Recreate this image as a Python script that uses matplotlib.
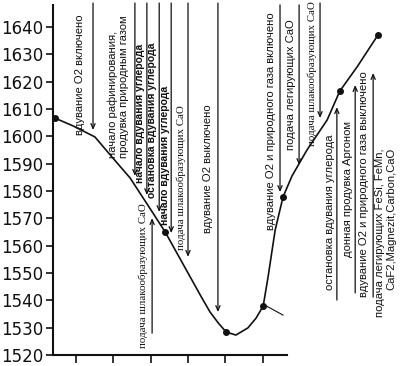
import matplotlib
matplotlib.use('Agg')
import matplotlib.pyplot as plt

# ---- data (time in arbitrary units, temperature in deg C) ----
time = [0.44, 0.93, 1.51, 1.97, 2.45, 3.06, 3.39, 4.37, 4.59, 4.81, 5.02,
        5.28, 5.60, 5.82, 6.01, 6.14, 6.33, 6.54, 6.78, 7.18, 7.72, 8.06,
        8.52, 9.08]
temp = [1606.7, 1603.8, 1599.8, 1592.4, 1584.8, 1572.0, 1565.0, 1540.9,
        1535.7, 1531.7, 1528.4, 1527.3, 1529.9, 1533.5, 1537.9, 1548.5,
        1565.7, 1577.8, 1585.5, 1595.0, 1606.0, 1616.6, 1625.4, 1637.1]
marker_time = [0.44, 3.39, 5.02, 6.01, 6.54, 8.06, 9.08]
marker_temp = [1606.7, 1565.0, 1528.4, 1537.9, 1577.8, 1616.6, 1637.1]

yticks = [1520, 1530, 1540, 1550, 1560, 1570, 1580, 1590, 1600, 1610,
          1620, 1630, 1640]
xticks = [1, 2, 3, 4, 5, 6]

labels = [
    "вдувание O2 включено",
    "начало рафинирования,\nпродувка природным газом",
    "начало вдувания углерода",
    "остановка вдувания углерода",
    "начало вдувания углерода",
    "подача шлакообразующих CaO",
    "подача шлакообразующих CaO",
    "вдувание O2 выключено",
    "вдувание O2 и природного газа включено",
    "подача легирующих CaO",
    "подача шлакообразующих CaO",
    "остановка вдувания углерода",
    "донная продувка Аргоном",
    "вдувание O2 и природного газа выключено",
    "подача легирующих FeSi, FeMn,\nCaF2,Magnezit,Carbon,CaO",
]
label_time = [1.11, 2.13, 2.72, 3.04, 3.39, 3.81, 2.80, 4.54, 6.22, 6.75,
              7.32, 7.80, 8.28, 8.71, 9.29]
label_temp = [1600.5, 1592.1, 1582.9, 1577.4, 1567.6, 1558.4, 1522.6, 1564.6,
              1565.7, 1595.0, 1596.6, 1543.8, 1555.9, 1541.2, 1595.7]
label_kind = ['s', 's', 'b', 'b', 'b', 'r', 'r', 's', 's', 's', 'r', 's',
              's', 's', 's']

arrow_time = [1.46, 2.58, 2.90, 3.23, 3.55, 4.00, 3.04, 4.80, 6.46, 6.97,
              7.53, 7.98, 8.47, 8.95]
arrow_from = [1648.8, 1648.8, 1648.8, 1648.8, 1648.8, 1648.8, 1528.0, 1648.8,
              1648.1, 1648.1, 1648.8, 1540.1, 1542.7, 1541.2]
arrow_to = [1602.3, 1585.5, 1578.5, 1572.3, 1564.6, 1555.9, 1570.1, 1535.7,
            1579.6, 1589.5, 1606.7, 1610.7, 1618.8, 1623.2]

leader_time = [6.10, 6.54]
leader_temp = [1537.9, 1534.6]

# ---- figure ----
fig = plt.figure(figsize=(4.01, 3.66), dpi=100)
ax = fig.add_axes([53 / 401, 11 / 366, 345 / 401, 350 / 366])
ax.set_xlim(0.39, 0.39 + 345 / 37.4)
ax.set_ylim(1520, 1520 + 350 / 2.733)

ink = '#111111'
ax.plot(time, temp, color=ink, lw=1.2, clip_on=False)
ax.plot(marker_time, marker_temp, 'o', color=ink, ms=4, clip_on=False)
ax.plot(leader_time, leader_temp, color=ink, lw=0.8, clip_on=False)

for xa, y0, y1 in zip(arrow_time, arrow_from, arrow_to):
    ax.annotate('', xy=(xa, y1), xytext=(xa, y0), annotation_clip=False,
                arrowprops=dict(arrowstyle='->,head_length=0.35,head_width=0.15',
                                color=ink, lw=0.9, shrinkA=0, shrinkB=0))

for i, (txt, xt, yt, k) in enumerate(zip(labels, label_time, label_temp, label_kind)):
    if k == 'r':
        fam, wt, fs = 'Liberation Serif', 'normal', 7.8
    elif k == 'b':
        fam, wt, fs = 'Liberation Sans', 'bold', 7.5
    else:
        fam, wt, fs = 'Liberation Sans', 'normal', 8.1
    last = i == len(labels) - 1
    ax.text(xt, yt, txt, rotation=90, ha='center',
            va='top' if last else 'bottom',
            multialignment='right' if last else 'left',
            fontsize=fs, family=fam, weight=wt,
            color=ink, linespacing=1.1, clip_on=False)

for s in ['top', 'right']:
    ax.spines[s].set_visible(False)
ax.spines['left'].set_linewidth(1.5)
ax.spines['bottom'].set_linewidth(1.5)
ax.spines['bottom'].set_bounds(0.39, 6.65)
ax.spines['left'].set_color(ink)
ax.spines['bottom'].set_color(ink)

ax.set_yticks(yticks)
ax.set_yticklabels([str(v) for v in yticks], fontsize=12, family='DejaVu Sans')
ax.set_xticks(xticks)
ax.set_xticklabels([])
ax.tick_params(axis='y', direction='out', length=5, width=1.2, pad=2, colors=ink)
ax.tick_params(axis='x', direction='out', length=6, width=1.2, colors=ink)

fig.savefig('out.png', dpi=100)
